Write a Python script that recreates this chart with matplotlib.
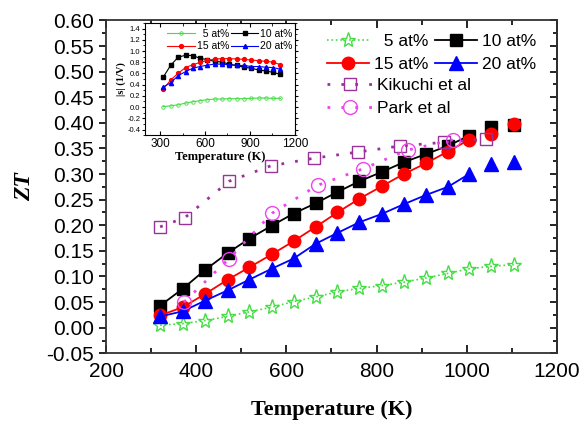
import numpy as np
import matplotlib
matplotlib.use("Agg")
import matplotlib.pyplot as plt
from matplotlib.ticker import MultipleLocator

plt.rcParams['font.family'] = ['Liberation Sans', 'DejaVu Sans']

# measured temperatures (K), shared by all series of this work
temp = [320, 370, 420, 470, 518, 567, 616, 665, 713, 762, 811, 860, 909, 958, 1005, 1054, 1104]

zt_5 = [0.005, 0.008, 0.014, 0.022, 0.031, 0.040, 0.051, 0.060, 0.070, 0.077, 0.082,
        0.089, 0.097, 0.106, 0.115, 0.120, 0.123]
zt_10 = [0.043, 0.076, 0.113, 0.146, 0.174, 0.199, 0.223, 0.243, 0.265, 0.286, 0.304,
         0.323, 0.339, 0.355, 0.375, 0.392, 0.396]
zt_15 = [0.024, 0.040, 0.066, 0.094, 0.118, 0.143, 0.169, 0.197, 0.225, 0.252, 0.276,
         0.300, 0.321, 0.344, 0.367, 0.378, 0.397]
zt_20 = [0.022, 0.032, 0.053, 0.073, 0.094, 0.115, 0.135, 0.164, 0.185, 0.206, 0.222,
         0.241, 0.259, 0.275, 0.300, 0.319, 0.324]

kik_t = [320, 375, 473, 565, 661, 758, 853, 949, 1043]
kik_zt = [0.197, 0.215, 0.286, 0.316, 0.331, 0.343, 0.355, 0.362, 0.368]

park_t = [373, 473, 569, 669, 769, 869, 969]
park_zt = [0.050, 0.135, 0.224, 0.278, 0.310, 0.347, 0.367]

# inset: |s| (1/V)
s_5 = [0.01, 0.022, 0.04, 0.071, 0.095, 0.114, 0.132, 0.144, 0.144, 0.150, 0.150,
       0.150, 0.156, 0.162, 0.162, 0.156, 0.156]
s_10 = [0.528, 0.742, 0.888, 0.925, 0.918, 0.870, 0.845, 0.815, 0.803, 0.766, 0.742,
        0.711, 0.693, 0.662, 0.644, 0.620, 0.583]
s_15 = [0.315, 0.480, 0.601, 0.705, 0.754, 0.797, 0.833, 0.858, 0.864, 0.864, 0.858,
        0.851, 0.839, 0.827, 0.815, 0.803, 0.754]
s_20 = [0.358, 0.431, 0.559, 0.632, 0.693, 0.723, 0.748, 0.766, 0.766, 0.754, 0.742,
        0.742, 0.723, 0.723, 0.711, 0.705, 0.675]

green = '#44dd44'
purple = '#993399'
magenta = '#ee44ee'
n_line = 15  # last two points of this work are not joined

fig = plt.figure(figsize=(5.85, 4.25), dpi=100)
ax = fig.add_axes([0.1812, 0.1687, 0.7709, 0.7831])

h5, = ax.plot(temp, zt_5, ls=':', color=green, lw=1.2, marker='*', ms=11,
              mfc='none', mec=green, mew=1.0)
ax.plot(temp[:n_line], zt_10[:n_line], '-', color='black', lw=1.3)
ax.plot(temp, zt_10, ls='none', marker='s', ms=8, color='black')
ax.plot(temp[:n_line], zt_15[:n_line], '-', color='red', lw=1.3)
ax.plot(temp, zt_15, ls='none', marker='o', ms=9, color='red')
ax.plot(temp[:n_line], zt_20[:n_line], '-', color='blue', lw=1.3)
ax.plot(temp, zt_20, ls='none', marker='^', ms=9.5, color='blue')
hk, = ax.plot(kik_t, kik_zt, ls=(0, (1, 4)), color=purple, lw=2, marker='s', ms=9,
              mfc='none', mec=purple, mew=1.0)
hp, = ax.plot(park_t, park_zt, ls=(0, (1, 4)), color=magenta, lw=2, marker='o', ms=10,
              mfc='none', mec=magenta, mew=1.0)

# legend proxies for solid series
h10, = ax.plot([], [], '-s', color='black', lw=1.3, ms=8)
h15, = ax.plot([], [], '-o', color='red', lw=1.3, ms=9)
h20, = ax.plot([], [], '-^', color='blue', lw=1.3, ms=9.5)

ax.set_xlim(200, 1200)
ax.set_ylim(-0.05, 0.60)
ax.xaxis.set_major_locator(MultipleLocator(200))
ax.xaxis.set_minor_locator(MultipleLocator(100))
ax.yaxis.set_major_locator(MultipleLocator(0.05))
ax.yaxis.set_minor_locator(MultipleLocator(0.025))
ax.yaxis.set_major_formatter(plt.FormatStrFormatter('%.2f'))
ax.tick_params(axis='x', which='both', direction='in', top=True, labelsize=15, pad=6)
ax.tick_params(axis='x', which='major', length=6, width=1.2)
ax.tick_params(axis='x', which='minor', length=3.5, width=1.2)
ax.tick_params(axis='y', which='both', direction='out', labelsize=15)
ax.tick_params(axis='y', which='major', length=5, width=1.2)
ax.tick_params(axis='y', which='minor', length=3, width=1.2)
for sp in ax.spines.values():
    sp.set_linewidth(1.3)
    sp.set_color('#333333')

sec = ax.secondary_yaxis('right')
sec.yaxis.set_major_locator(MultipleLocator(0.05))
sec.yaxis.set_minor_locator(MultipleLocator(0.025))
sec.tick_params(axis='y', which='both', direction='in', labelright=False, width=1.2)
sec.tick_params(axis='y', which='major', length=5)
sec.tick_params(axis='y', which='minor', length=3)
sec.spines['right'].set_linewidth(1.3)

ax.set_xlabel('Temperature (K)', family='Liberation Serif', fontweight='bold',
              fontsize=16, labelpad=14)
ax.set_ylabel('ZT', family='Liberation Serif', fontweight='bold', style='italic',
              fontsize=17, labelpad=8)

leg1 = ax.legend([h5, h15, h10, h20], ['  5 at%', '15 at%', '10 at%', '20 at%'],
                 ncol=2, loc='upper left', bbox_to_anchor=(0.49, 0.96), frameon=False,
                 fontsize=12.5, handlelength=2.4, handletextpad=0.3, columnspacing=0.4,
                 borderpad=0, borderaxespad=0, labelspacing=0.45)
ax.add_artist(leg1)
ax.legend([hk, hp], ['Kikuchi et al', 'Park et al'], loc='upper left',
          bbox_to_anchor=(0.49, 0.828), frameon=False, fontsize=12.5, handlelength=2.6,
          handletextpad=0.3, borderpad=0, borderaxespad=0, labelspacing=0.45)

# inset
axi = fig.add_axes([0.248, 0.682, 0.256, 0.264])
axi.plot(temp, s_5, '-o', color=green, lw=0.8, ms=2.5, mfc='none', mew=0.6, label='  5 at%')
axi.plot(temp, s_10, '-s', color='black', lw=0.8, ms=2.5, label='10 at%')
axi.plot(temp, s_15, '-o', color='red', lw=0.8, ms=2.8, label='15 at%')
axi.plot(temp, s_20, '-^', color='blue', lw=0.8, ms=3, label='20 at%')
axi.set_xlim(200, 1200)
axi.set_ylim(-0.5, 1.5)
axi.xaxis.set_major_locator(MultipleLocator(300))
axi.xaxis.set_minor_locator(MultipleLocator(150))
axi.yaxis.set_major_locator(MultipleLocator(0.2))
axi.yaxis.set_minor_locator(MultipleLocator(0.1))
axi.yaxis.set_major_formatter(plt.FormatStrFormatter('%.1f'))
axi.tick_params(axis='x', which='both', direction='in', top=True, labelsize=8.5, pad=2)
axi.tick_params(axis='x', which='major', length=3)
axi.tick_params(axis='x', which='minor', length=1.8)
axi.tick_params(axis='y', which='both', direction='out', right=True, labelsize=5.5, pad=1)
axi.tick_params(axis='y', which='major', length=2.5)
axi.tick_params(axis='y', which='minor', length=1.5)
for sp in axi.spines.values():
    sp.set_linewidth(0.8)
axi.set_xlabel('Temperature (K)', family='Liberation Serif', fontweight='bold',
               fontsize=9, labelpad=1)
axi.set_ylabel('|s| (1/V)', family='Liberation Serif', fontweight='bold',
               fontsize=7.5, labelpad=1)
axi.legend([axi.lines[0], axi.lines[2], axi.lines[1], axi.lines[3]],
           ['  5 at%', '15 at%', '10 at%', '20 at%'], ncol=2, loc='upper right',
           bbox_to_anchor=(0.985, 0.95), frameon=False, fontsize=7.5, handlelength=2.6,
           handletextpad=0.2, columnspacing=0.2, borderpad=0, borderaxespad=0,
           labelspacing=0.25)

fig.savefig('out.png', dpi=100)
